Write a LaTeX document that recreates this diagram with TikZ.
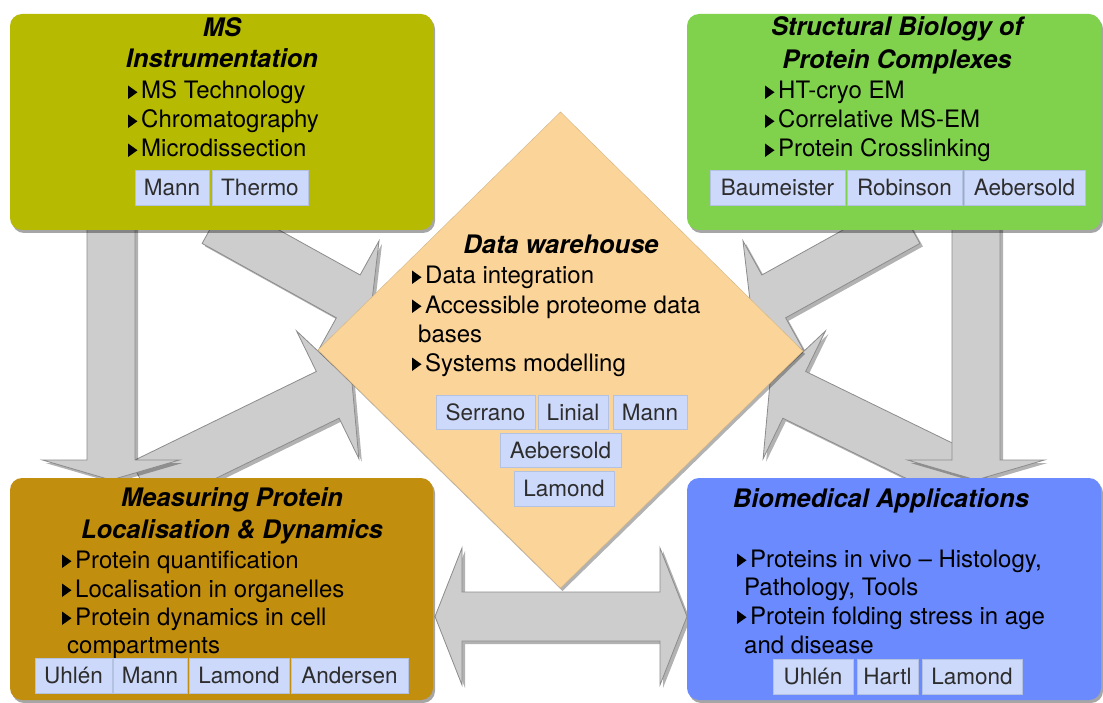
\documentclass[tikz,border=0pt]{standalone}
\usepackage{fontspec}
\setmainfont{TeX Gyre Heros}
\usetikzlibrary{calc,shadows}
\definecolor{olivebox}{RGB}{182,186,0}
\definecolor{greenbox}{RGB}{128,210,76}
\definecolor{goldbox}{RGB}{194,142,14}
\definecolor{bluebox}{RGB}{106,138,253}
\definecolor{diamondc}{RGB}{250,212,153}
\definecolor{arrowc}{RGB}{205,205,205}
\definecolor{arrowl}{RGB}{140,140,140}
\definecolor{tagfill}{RGB}{205,217,250}
\definecolor{tagline}{RGB}{180,194,226}
\definecolor{tagtext}{RGB}{45,45,45}
\newcommand{\bodyfont}{\fontsize{24}{28}\selectfont}
\newcommand{\titlefont}{\fontsize{25.5}{30}\selectfont\bfseries\itshape}
\newcommand{\tagfont}{\fontsize{22.5}{26}\selectfont}
\tikzset{
  panel/.style={rounded corners=12pt, inner sep=0pt,
    drop shadow={shadow xshift=2pt, shadow yshift=-3pt, opacity=0.35, fill=black}},
  fatarrow/.style={fill=arrowc, draw=arrowl, line width=0.8pt, line join=miter,
    drop shadow={shadow xshift=3pt, shadow yshift=-3pt, opacity=0.3, fill=black}},
  tagbox/.style={fill=tagfill, draw=tagline, line width=0.8pt, text=tagtext,
    font=\tagfont, inner sep=0pt, minimum height=35pt},
  ttl/.style={font=\titlefont, anchor=base, inner sep=0pt},
  txt/.style={font=\bodyfont, anchor=base west, inner sep=0pt},
}
% single fat arrow: tail, tip, half shaft width, half head width, head length
\newcommand{\fatarr}[5]{%
  \coordinate (fab) at ($(#2)!#5!(#1)$);
  \path[fatarrow] ($(#1)!#3!90:(#2)$) -- ($(fab)!#3!90:(#2)$) -- ($(fab)!#4!90:(#2)$)
    -- (#2) -- ($(fab)!#4!-90:(#2)$) -- ($(fab)!#3!-90:(#2)$) -- ($(#1)!#3!-90:(#2)$) -- cycle;}
% double fat arrow: tip1, tip2, half shaft, half head, head length
\newcommand{\dblarr}[5]{%
  \coordinate (dba) at ($(#1)!#5!(#2)$);
  \coordinate (dbb) at ($(#2)!#5!(#1)$);
  \path[fatarrow] (#1) -- ($(dba)!#4!90:(#2)$) -- ($(dba)!#3!90:(#2)$) -- ($(dbb)!#3!90:(#2)$)
    -- ($(dbb)!#4!90:(#2)$) -- (#2) -- ($(dbb)!#4!-90:(#2)$) -- ($(dbb)!#3!-90:(#2)$)
    -- ($(dba)!#3!-90:(#2)$) -- ($(dba)!#4!-90:(#2)$) -- cycle;}
% bullet line: name, x, y, text
\newcommand{\bline}[4]{%
  \fill ({#2},{#3}) -- ({#2},{#3-13.5}) -- ({#2+9.5},{#3-6.75}) -- cycle;
  \node[txt] (#1) at ({#2+13},{#3}) {#4};}
\begin{document}
\begin{tikzpicture}[x=1pt,y=-1pt]
\fill[white] (0,0) rectangle (1103,703);
\useasboundingbox (0,0) rectangle (1103,703);

% arrow end points
\coordinate (a1s) at (214,222);  \coordinate (a1t) at (371,309);
\coordinate (a2s) at (143,485);  \coordinate (a2t) at (352,383);
\coordinate (a3s) at (908,222);  \coordinate (a3t) at (751,309);
\coordinate (a4s) at (979,485);  \coordinate (a4t) at (770,383);
\coordinate (v1s) at (111,222);  \coordinate (v1t) at (111,480);
\coordinate (v2s) at (976,222);  \coordinate (v2t) at (976,480);
\coordinate (h1) at (435,616.5); \coordinate (h2) at (687,616.5);

% diagonal arrows
\fatarr{a1s}{a1t}{24.5pt}{63.5pt}{26pt}
\fatarr{a3s}{a3t}{24.5pt}{63.5pt}{26pt}
\fatarr{a2s}{a2t}{26pt}{71pt}{27pt}
\fatarr{a4s}{a4t}{26pt}{71pt}{27pt}
% vertical arrows
\fatarr{v1s}{v1t}{24pt}{68.5pt}{20pt}
\fatarr{v2s}{v2t}{24pt}{68.5pt}{20pt}
% double arrow
\dblarr{h1}{h2}{24.5pt}{68.5pt}{27pt}

% diamond
\coordinate (dT) at (560.5,112);
\coordinate (dR) at (803,351);
\coordinate (dB) at (560.5,588);
\coordinate (dL) at (318,350);
\path[fill=diamondc, draw=diamondc!85!black, line width=0.4pt,
  drop shadow={shadow xshift=2pt, shadow yshift=-3pt, opacity=0.3, fill=black}]
  (dT) -- (dR) -- (dB) -- (dL) -- cycle;

% panels
\node[panel, fill=olivebox, minimum width=423pt, minimum height=216pt] (msbox) at (221.5,122) {};
\node[panel, fill=greenbox, minimum width=414pt, minimum height=216pt] (sbbox) at (894,122) {};
\node[panel, fill=goldbox, minimum width=423pt, minimum height=222pt] (mpbox) at (221.5,589) {};
\node[panel, fill=bluebox, minimum width=414pt, minimum height=222pt] (babox) at (894,589) {};

% MS Instrumentation
\node[ttl] (msT1) at (222,37) {MS};
\node[ttl] (msT2) at (222,68) {Instrumentation};
\bline{ms1}{128}{99}{MS Technology}
\bline{ms2}{128}{128}{Chromatography}
\bline{ms3}{128}{157}{Microdissection}
\node[tagbox, minimum width=74pt] (msg1) at (172,187.5) {Mann};
\node[tagbox, minimum width=96pt] (msg2) at (260,187.5) {Thermo};

% Structural Biology
\node[ttl] (sbT1) at (897,36) {Structural Biology of};
\node[ttl] (sbT2) at (897,69) {Protein Complexes};
\bline{sb1}{765}{99}{HT-cryo EM}
\bline{sb2}{765}{128}{Correlative MS-EM}
\bline{sb3}{765}{157}{Protein Crosslinking}
\node[tagbox, minimum width=135pt] (sbg1) at (777.5,187.5) {Baumeister};
\node[tagbox, minimum width=115pt] (sbg2) at (904.5,187.5) {Robinson};
\node[tagbox, minimum width=121pt] (sbg3) at (1024.5,187.5) {Aebersold};

% Measuring Protein
\node[ttl] (mpT1) at (232,506) {Measuring Protein};
\node[ttl] (mpT2) at (232,538) {Localisation \& Dynamics};
\bline{mp1}{62}{568}{Protein quantification}
\bline{mp2}{62}{597}{Localisation in organelles}
\bline{mp3}{62}{625}{Protein dynamics in cell}
\node[txt] (mp4) at (67,653) {compartments};
\node[tagbox, minimum width=77pt] (mpg1) at (73.5,675.5) {Uhlén};
\node[tagbox, minimum width=74pt] (mpg2) at (150,675.5) {Mann};
\node[tagbox, minimum width=100pt] (mpg3) at (239,675.5) {Lamond};
\node[tagbox, minimum width=117pt] (mpg4) at (349.5,675.5) {Andersen};

% Biomedical Applications
\node[ttl] (baT1) at (881,507) {Biomedical Applications};
\bline{ba1}{737}{567}{Proteins in vivo – Histology,}
\node[txt] (ba2) at (744,595) {Pathology, Tools};
\bline{ba3}{737}{624}{Protein folding stress in age}
\node[txt] (ba4) at (744,653) {and disease};
\node[tagbox, minimum width=80pt] (bag1) at (813,676.5) {Uhlén};
\node[tagbox, minimum width=61pt] (bag2) at (887.5,676.5) {Hartl};
\node[tagbox, minimum width=100pt] (bag3) at (972,676.5) {Lamond};

% Data warehouse
\node[ttl] (dwT) at (561,254) {Data warehouse};
\bline{dw1}{412}{284}{Data integration}
\bline{dw2}{412}{313}{Accessible proteome data}
\node[txt] (dw3) at (418,342) {bases};
\bline{dw4}{412}{371}{Systems modelling}
\node[tagbox, minimum width=99pt, minimum height=34pt] (dwg1) at (485.5,412) {Serrano};
\node[tagbox, minimum width=70pt, minimum height=34pt] (dwg2) at (573,412) {Linial};
\node[tagbox, minimum width=74pt, minimum height=34pt] (dwg3) at (650,412) {Mann};
\node[tagbox, minimum width=121pt, minimum height=34pt] (dwg4) at (560.5,450) {Aebersold};
\node[tagbox, minimum width=100pt, minimum height=35pt] (dwg5) at (564,488.5) {Lamond};
\end{tikzpicture}
\end{document}
